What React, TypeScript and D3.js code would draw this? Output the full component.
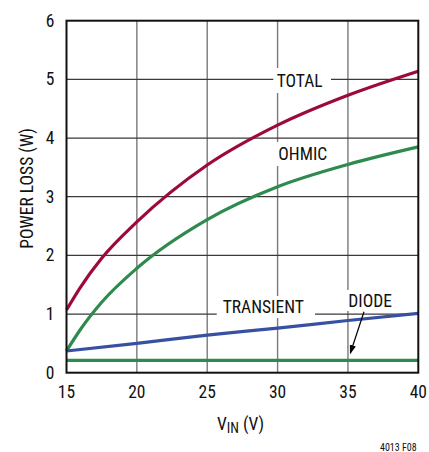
import React from "react";
import * as d3 from "d3";

const xTicks = [15, 20, 25, 30, 35, 40];
const yTicks = [0, 1, 2, 3, 4, 5, 6];

const vin = [15, 16, 17.5, 20, 25, 30, 35, 40];
const totalLoss = [1.07, 1.46, 1.95, 2.57, 3.54, 4.22, 4.73, 5.14];
const ohmicLoss = [0.37, 0.74, 1.2, 1.78, 2.61, 3.17, 3.55, 3.85];
const vinLinear = [15, 20, 25, 30, 35, 40];
const transientLoss = [0.37, 0.5, 0.64, 0.76, 0.89, 1.01];
const diodeLoss = [0.21, 0.21, 0.21, 0.21, 0.21, 0.21];

const FONT = "'Liberation Sans Narrow', 'Arial Narrow', 'Roboto Condensed', 'Liberation Sans', sans-serif";

export default function App() {
  const x = d3.scaleLinear().domain([15, 40]).range([66.5, 418.3]);
  const y = d3.scaleLinear().domain([0, 6]).range([372.7, 20.7]);

  const lineGen = d3
    .line<[number, number]>()
    .x((d) => x(d[0]))
    .y((d) => y(d[1]))
    .curve(d3.curveMonotoneX);

  const zip = (a: number[], b: number[]) => a.map((v, i) => [v, b[i]] as [number, number]);

  const series = [
    { d: lineGen(zip(vin, totalLoss)), color: "#9c0a3c" },
    { d: lineGen(zip(vin, ohmicLoss)), color: "#2f8a4e" },
    { d: lineGen(zip(vinLinear, transientLoss)), color: "#3850a2" },
    { d: lineGen(zip(vinLinear, diodeLoss)), color: "#2f8a4e" },
  ];

  const [x0, x1] = x.range();
  const [yb, yt] = y.range();

  return (
    <svg width={429} height={452} style={{ position: "absolute", left: 0, top: 0, background: "#fff" }}>
      <defs>
        <marker id="arrow" viewBox="0 0 10 10" refX="9" refY="5" markerWidth="9" markerHeight="9" orient="auto" markerUnits="userSpaceOnUse">
          <path d="M0,1.5 L10,5 L0,8.5 Z" fill="#000" />
        </marker>
      </defs>
      {xTicks.slice(1, -1).map((t) => (
        <line key={"gx" + t} x1={x(t)} x2={x(t)} y1={yt} y2={yb} stroke="#7a7a7a" strokeWidth={1.4} />
      ))}
      {yTicks.slice(1, -1).map((t) => (
        <line key={"gy" + t} x1={x0} x2={x1} y1={y(t)} y2={y(t)} stroke="#3a3a3a" strokeWidth={1.3} />
      ))}
      <rect x={273.3} y={68} width={57.7} height={25} fill="#fff" />
      <rect x={273.3} y={142} width={60} height={24} fill="#fff" />
      <rect x={216.7} y={296} width={98.3} height={22} fill="#fff" />
      <rect x={344.5} y={290} width={54} height={21} fill="#fff" />
      {series.map((s, i) => (
        <path key={i} d={s.d || ""} fill="none" stroke={s.color} strokeWidth={3.2} />
      ))}
      <rect x={x0} y={yt} width={x1 - x0} height={yb - yt} fill="none" stroke="#111" strokeWidth={2} />
      <g fontFamily={FONT} fontSize={17.5} fill="#111">
        <text x={276.7} y={87.3}>TOTAL</text>
        <text x={278.3} y={160}>OHMIC</text>
        <text x={222.7} y={313.3}>TRANSIENT</text>
        <text x={348.3} y={306.7}>DIODE</text>
      </g>
      <line x1={364} y1={311.7} x2={350.3} y2={353.3} stroke="#000" strokeWidth={1.2} markerEnd="url(#arrow)" />
      <g fontFamily={FONT} fontSize={17.5} fill="#111">
        {yTicks.map((t) => (
          <text key={"yl" + t} x={54.5} y={y(t)} dy="0.35em" textAnchor="end">
            {t}
          </text>
        ))}
        {xTicks.map((t) => (
          <text key={"xl" + t} x={x(t)} y={398.3} textAnchor="middle">
            {t}
          </text>
        ))}
        <text transform="translate(33,188.4) rotate(-90)" textAnchor="middle">
          POWER LOSS (W)
        </text>
        <text x={240.5} y={430} textAnchor="middle">
          V<tspan fontSize={14} dy={2.5}>IN</tspan>
          <tspan dy={-2.5}> (V)</tspan>
        </text>
      </g>
      <text x={416.7} y={450.7} textAnchor="end" fontFamily={FONT} fontSize={10} fill="#111">
        4013 F08
      </text>
    </svg>
  );
}
